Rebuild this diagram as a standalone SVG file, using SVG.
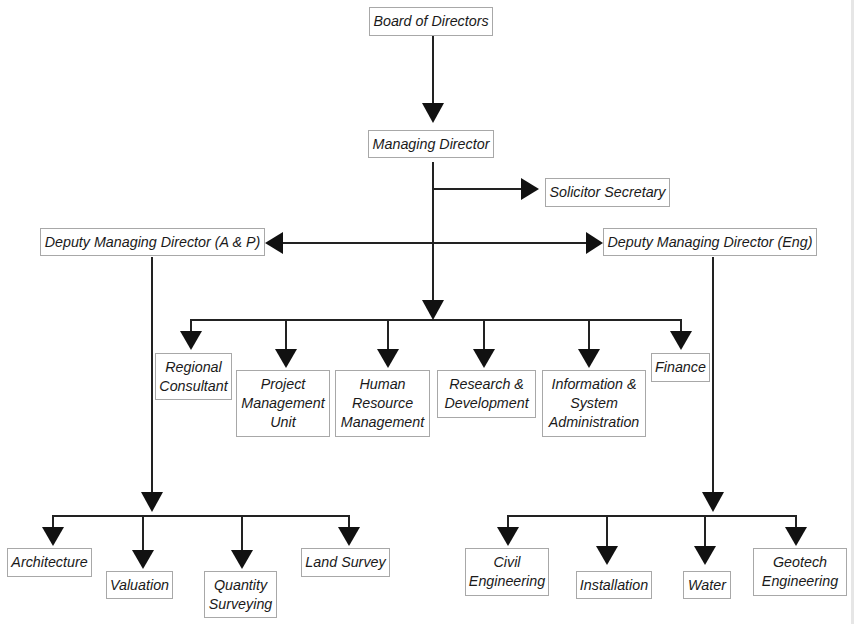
<svg xmlns="http://www.w3.org/2000/svg" width="854" height="624" viewBox="0 0 854 624">
<style>
.box{fill:#fff;stroke:#a8a8a8;stroke-width:1}
.t{font-family:"Liberation Sans",Arial,sans-serif;font-style:italic;font-size:14.3px;fill:#1a1a1a;text-anchor:middle}
.c{stroke:#222;stroke-width:2;fill:none}
.a{fill:#111;stroke:none}
</style>
<rect x="0" y="0" width="854" height="624" fill="#fff"/>
<rect x="851" y="0" width="3" height="624" fill="#e6e6e6"/>
<g id="connectors">
<path class="c" d="M433,35V104 M433,162V301 M433,189H522 M283,243H587 M191,331V320H681V331 M286,320V349 M388,320V349 M484,320V349 M589,320V349 M152,257V493 M53,527V516H349V527 M143,516V550 M242,516V550 M713,257V493 M508,527V516H796V527 M607,516V546 M705,516V546"/>
<polygon class="a" points="422,103 444,103 433,123"/>
<polygon class="a" points="422,300 444,300 433,320"/>
<polygon class="a" points="521,178 521,200 539,189"/>
<polygon class="a" points="283,232 283,254 265,243"/>
<polygon class="a" points="586,232 586,254 603,243"/>
<polygon class="a" points="180,331 202,331 191,350"/>
<polygon class="a" points="275,349 297,349 286,368"/>
<polygon class="a" points="377,349 399,349 388,368"/>
<polygon class="a" points="473,349 495,349 484,368"/>
<polygon class="a" points="578,349 600,349 589,368"/>
<polygon class="a" points="670,331 692,331 681,350"/>
<polygon class="a" points="141,492 163,492 152,512"/>
<polygon class="a" points="42,527 64,527 53,546"/>
<polygon class="a" points="132,550 154,550 143,569"/>
<polygon class="a" points="231,550 253,550 242,569"/>
<polygon class="a" points="338,527 360,527 349,546"/>
<polygon class="a" points="702,492 724,492 713,512"/>
<polygon class="a" points="497,527 519,527 508,546"/>
<polygon class="a" points="596,546 618,546 607,565"/>
<polygon class="a" points="694,546 716,546 705,565"/>
<polygon class="a" points="785,527 807,527 796,546"/>
</g>
<g id="board"><rect class="box" x="369.5" y="7.5" width="123" height="28"/><text class="t" x="431" y="26">Board of Directors</text></g>
<g id="md"><rect class="box" x="368.5" y="130.5" width="125" height="27"/><text class="t" x="431" y="149">Managing Director</text></g>
<g id="solicitor"><rect class="box" x="545.5" y="178.5" width="124" height="28"/><text class="t" x="607.5" y="197">Solicitor Secretary</text></g>
<g id="dmd-ap"><rect class="box" x="40.5" y="228.5" width="224" height="27"/><text class="t" x="152.5" y="247">Deputy Managing Director (A &amp; P)</text></g>
<g id="dmd-eng"><rect class="box" x="603.5" y="228.5" width="213" height="27"/><text class="t" x="710" y="247">Deputy Managing Director (Eng)</text></g>
<g id="regional"><rect class="box" x="155.5" y="353.5" width="76" height="46"/><text class="t" x="193.5" y="372">Regional</text><text class="t" x="193.5" y="391">Consultant</text></g>
<g id="pmu"><rect class="box" x="236.5" y="370.5" width="93" height="66"/><text class="t" x="283" y="389">Project</text><text class="t" x="283" y="408">Management</text><text class="t" x="283" y="427">Unit</text></g>
<g id="hrm"><rect class="box" x="335.5" y="370.5" width="94" height="66"/><text class="t" x="382.5" y="389">Human</text><text class="t" x="382.5" y="408">Resource</text><text class="t" x="382.5" y="427">Management</text></g>
<g id="rd"><rect class="box" x="437.5" y="370.5" width="98" height="47"/><text class="t" x="486.5" y="389">Research &amp;</text><text class="t" x="486.5" y="408">Development</text></g>
<g id="isa"><rect class="box" x="542.5" y="370.5" width="103" height="66"/><text class="t" x="594" y="389">Information &amp;</text><text class="t" x="594" y="408">System</text><text class="t" x="594" y="427">Administration</text></g>
<g id="finance"><rect class="box" x="651.5" y="353.5" width="58" height="28"/><text class="t" x="680.5" y="372">Finance</text></g>
<g id="architecture"><rect class="box" x="7.5" y="548.5" width="84" height="28"/><text class="t" x="49.5" y="567">Architecture</text></g>
<g id="valuation"><rect class="box" x="106.5" y="571.5" width="66" height="27"/><text class="t" x="139.5" y="590">Valuation</text></g>
<g id="quantity"><rect class="box" x="204.5" y="571.5" width="72" height="46"/><text class="t" x="240.5" y="590">Quantity</text><text class="t" x="240.5" y="609">Surveying</text></g>
<g id="landsurvey"><rect class="box" x="301.5" y="548.5" width="88" height="28"/><text class="t" x="345.5" y="567">Land Survey</text></g>
<g id="civil"><rect class="box" x="465.5" y="548.5" width="83" height="47"/><text class="t" x="507" y="567">Civil</text><text class="t" x="507" y="586">Engineering</text></g>
<g id="installation"><rect class="box" x="576.5" y="571.5" width="75" height="27"/><text class="t" x="614" y="590">Installation</text></g>
<g id="water"><rect class="box" x="683.5" y="571.5" width="47" height="27"/><text class="t" x="707" y="590">Water</text></g>
<g id="geotech"><rect class="box" x="753.5" y="548.5" width="93" height="47"/><text class="t" x="800" y="567">Geotech</text><text class="t" x="800" y="586">Engineering</text></g>
</svg>
